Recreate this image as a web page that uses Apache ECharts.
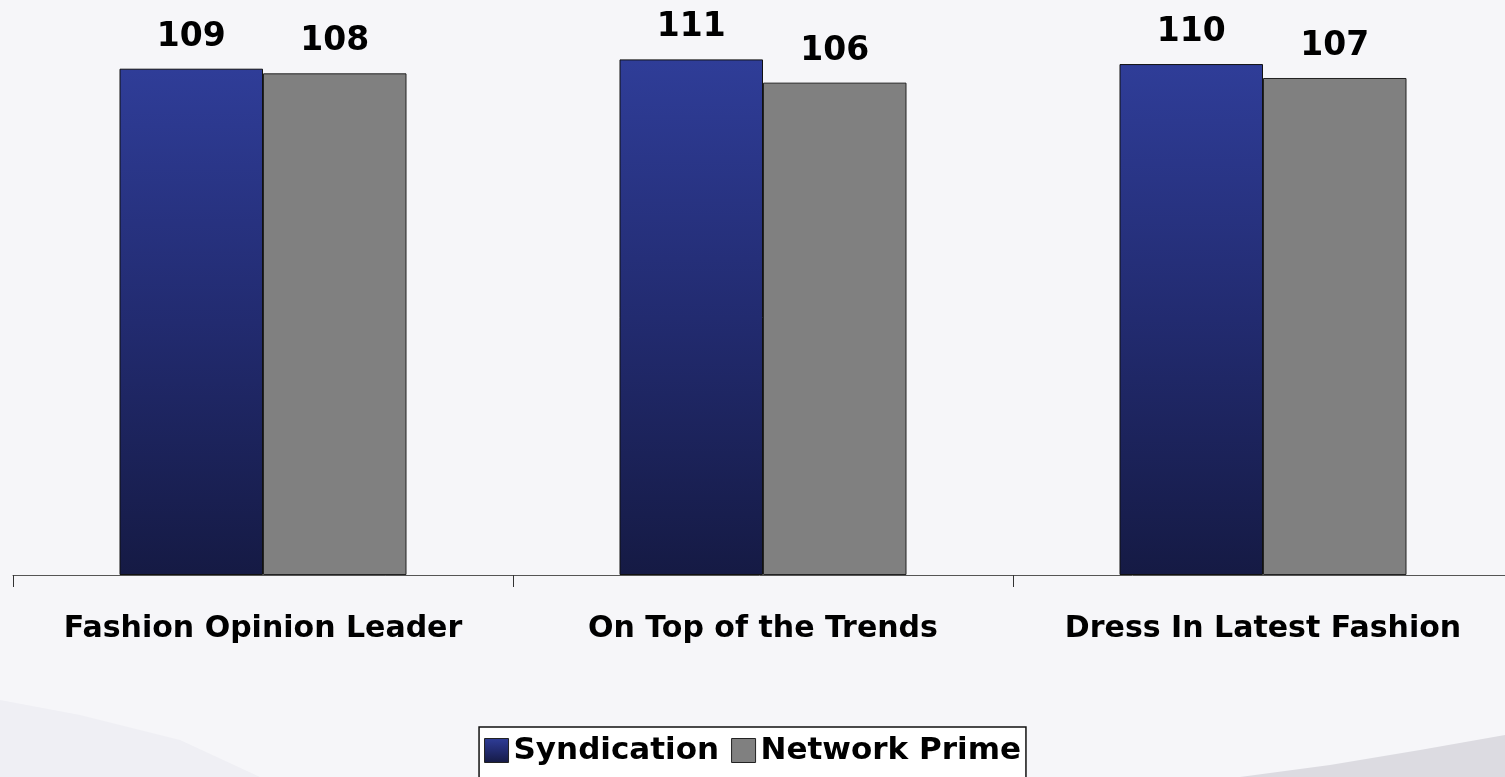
<!DOCTYPE html>
<html>
<head>
<meta charset="utf-8">
<script src="https://cdn.jsdelivr.net/npm/echarts@6/dist/echarts.min.js"></script>
<style>
html,body{margin:0;padding:0;background:#f6f6f9;}
#c{width:1505px;height:777px;}
</style>
</head>
<body>
<div id="c"></div>
<script>
var categories = ['Fashion Opinion Leader', 'On Top of the Trends', 'Dress In Latest Fashion'];
var seriesNames = ['Syndication', 'Network Prime'];
var syndication = [109, 111, 110];
var networkPrime = [108, 106, 107];

var chart = echarts.init(document.getElementById('c'), null, {renderer: 'canvas'});
var font = 'DejaVu Sans';
var blueGrad = new echarts.graphic.LinearGradient(0, 0, 0, 1, [
  {offset: 0, color: '#2f3d98'},
  {offset: 0.5, color: '#222b70'},
  {offset: 1, color: '#151a44'}
]);
var option = {
  backgroundColor: '#f6f6f9',
  animation: false,
  graphic: [
    {type: 'polygon', silent: true, z: -10,
     shape: {points: [[1240, 777], [1330, 765], [1420, 750], [1505, 735], [1505, 777]]},
     style: {fill: '#dcdbe1'}},
    {type: 'polygon', silent: true, z: -10,
     shape: {points: [[0, 700], [80, 715], [180, 740], [260, 777], [0, 777]]},
     style: {fill: '#efeff4'}}
  ],
  grid: {left: 13, width: 1500, top: 17.6, bottom: 202, containLabel: false, outerBoundsMode: 'none'},
  legend: {
    data: seriesNames,
    left: 'center',
    top: 727,
    orient: 'horizontal',
    backgroundColor: '#ffffff',
    borderColor: '#111111',
    borderWidth: 1.5,
    padding: [8, 5, 22, 5],
    itemWidth: 24,
    itemHeight: 24,
    itemGap: 12,
    icon: 'rect',
    itemStyle: {borderColor: '#222', borderWidth: 1},
    textStyle: {fontFamily: font, fontWeight: 'bold', fontSize: 31, color: '#000', padding: [0, 0, 0, 0]}
  },
  xAxis: {
    type: 'category',
    data: categories,
    axisLine: {lineStyle: {color: '#555', width: 1}},
    axisTick: {show: true, interval: 0, length: 12, lineStyle: {color: '#333'}},
    axisLabel: {interval: 0, hideOverlap: false, margin: 39, fontFamily: font, fontWeight: 'bold', fontSize: 30, color: '#000'}
  },
  yAxis: {
    type: 'value',
    min: 0, max: 120,
    show: false,
    splitLine: {show: false}
  },
  series: [
    {
      name: seriesNames[0], type: 'bar', data: syndication,
      barGap: '0%', barCategoryGap: '42.6%',
      itemStyle: {color: blueGrad, borderColor: '#111', borderWidth: 1},
      label: {show: true, position: 'top', distance: 15, fontFamily: font, fontWeight: 'bold', fontSize: 33, color: '#000'}
    },
    {
      name: seriesNames[1], type: 'bar', data: networkPrime,
      barGap: '0%', barCategoryGap: '42.6%',
      itemStyle: {color: '#808080', borderColor: '#222', borderWidth: 1},
      label: {show: true, position: 'top', distance: 15, fontFamily: font, fontWeight: 'bold', fontSize: 33, color: '#000'}
    }
  ]
};
chart.setOption(option);
</script>
</body>
</html>
